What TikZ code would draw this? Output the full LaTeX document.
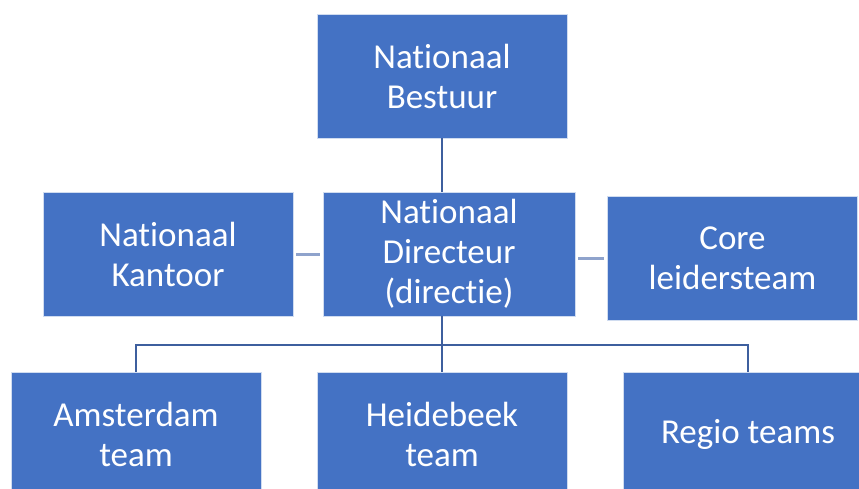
\documentclass[tikz,border=0pt]{standalone}
\usepackage{fontspec}
\setmainfont{Carlito}[Ligatures=NoCommon]
\definecolor{boxblue}{HTML}{4472C4}
\definecolor{linkblue}{HTML}{3E5F9E}
\definecolor{sideblue}{HTML}{8FA3CC}

\begin{document}
\begin{tikzpicture}[x=1pt,y=1pt,
  unit/.style={draw=white!75!boxblue, line width=0.8pt, fill=boxblue, text=white,
    minimum width=250pt, minimum height=124pt, inner sep=0pt, align=center,
    font=\fontsize{35}{40}\selectfont},
  link/.style={draw=linkblue, line width=2pt},
  sidelink/.style={draw=sideblue, line width=3pt, shorten <=3pt, shorten >=3pt}]
\useasboundingbox (0,0) rectangle (859,488);
\clip (0,0) rectangle (859,488);

\node[unit] (bestuur) at (442,412) {Nationaal\\Bestuur};
\node[unit] (kantoor) at (168,234) {Nationaal\\Kantoor};
\node[unit, minimum width=252pt] (dir) at (449,234) {Nationaal\\Directeur\\(directie)};
\node[unit] (core) at (732.5,230) {Core\\leidersteam};

\node[unit] (amsterdam) at (136,54) {Amsterdam\\team};
\node[unit] (heidebeek) at (442,54) {Heidebeek\\team};
\node[unit] (regio) at (748,54) {Regio teams};

%\coordinate for the bar above the teams
\coordinate (bus) at (442,143);

\draw[link] (bestuur.south) -- (bestuur.south |- dir.north);
\draw[link] (heidebeek.north |- dir.south) -- (heidebeek.north);
\draw[link] (amsterdam.north) -- (amsterdam.north |- bus) -- (regio.north |- bus) -- (regio.north);

\draw[sidelink] (kantoor.east) -- (dir.west);
\draw[sidelink] (core.west) -- (core.west -| dir.east);

\end{tikzpicture}
\end{document}
